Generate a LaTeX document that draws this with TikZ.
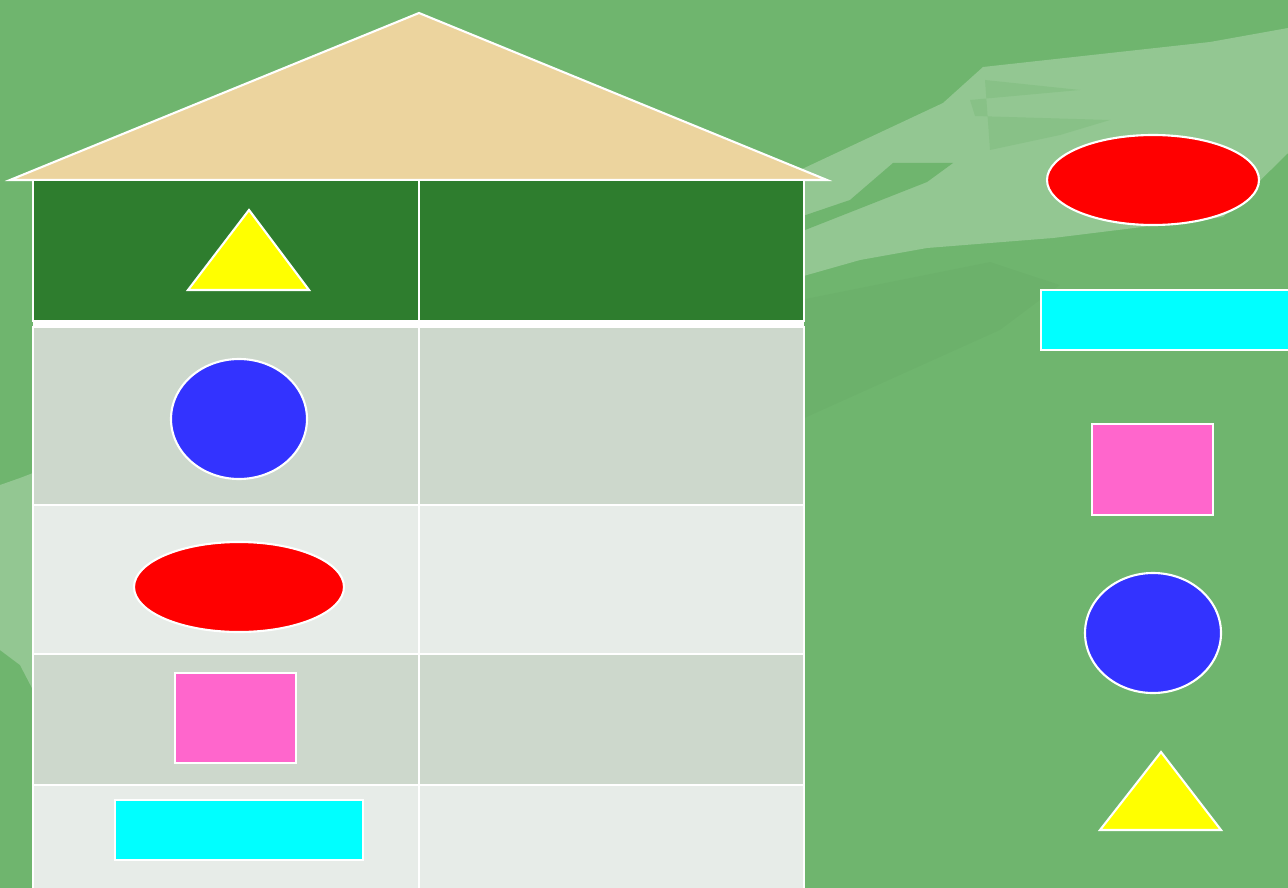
\documentclass[tikz,border=0pt]{standalone}
\definecolor{meadow}{RGB}{111,181,110}
\definecolor{roofwood}{RGB}{236,212,158}
\definecolor{headgreen}{RGB}{46,125,46}
\definecolor{rowdark}{RGB}{205,216,204}
\definecolor{rowlight}{RGB}{231,236,232}
\definecolor{shapeblue}{RGB}{51,51,255}
\definecolor{shapepink}{RGB}{255,102,204}
\definecolor{shapecyan}{RGB}{0,255,255}
\definecolor{shapeyellow}{RGB}{255,255,0}
\definecolor{shapered}{RGB}{255,0,0}
\begin{document}
\begin{tikzpicture}[x=0.01cm, y=-0.01cm, line width=0.6pt]
  \useasboundingbox (0,0) rectangle (1288,888);
  % background and mist
  \fill[meadow] (0,0) rectangle (1288,888);
  \fill[white, opacity=0.25] (800,170) -- (943,103) -- (983,67) -- (1210,42) -- (1288,28)
    -- (1288,153) -- (1223,217) -- (1053,238) -- (927,248) -- (860,260) -- (800,277) -- cycle;
  \fill[meadow] (800,217) -- (850,200) -- (893,163) -- (953,163) -- (927,182) -- (800,232) -- cycle;
  \fill[meadow, opacity=0.3] (985,80) -- (1080,90) -- (970,100) -- (975,116) -- (1110,120) -- (1060,135) -- (990,150) -- cycle;
  \fill[black, opacity=0.02] (800,300) -- (990,262) -- (1060,285) -- (1000,330) -- (800,420) -- cycle;
  \fill[white, opacity=0.25] (0,485) -- (20,478) -- (33,473) -- (33,690) -- (20,665) -- (0,650) -- cycle;
  % roof
  \draw[white, fill=roofwood] (10,180) -- (419,13) -- (827,180) -- cycle;
  % table
  \draw[white, fill=headgreen] (33,180) rectangle (804,321);
  \fill[white] (33,321) rectangle (804,327);
  \draw[white, fill=rowdark] (33,327) rectangle (804,505);
  \draw[white, fill=rowlight] (33,505) rectangle (804,654);
  \draw[white, fill=rowdark] (33,654) rectangle (804,785);
  \draw[white, fill=rowlight] (33,785) rectangle (804,890);
  \draw[white] (419,180) -- (419,321);
  \draw[white] (419,327) -- (419,890);
  % shapes in the table
  \draw[white, fill=shapeyellow] (249,210) -- (309,290) -- (188,290) -- cycle;
  \draw[white, fill=shapeblue] (239,419) ellipse [x radius=68, y radius=60];
  \draw[white, fill=shapered] (239,587) ellipse [x radius=105, y radius=45];
  \draw[white, fill=shapepink] (175,673) rectangle (296,763);
  \draw[white, fill=shapecyan] (115,800) rectangle (363,860);
  % shapes on the right
  \draw[white, fill=shapered] (1153,180) ellipse [x radius=106, y radius=45];
  \draw[white, fill=shapecyan] (1041,290) rectangle (1292,350);
  \draw[white, fill=shapepink] (1092,424) rectangle (1213,515);
  \draw[white, fill=shapeblue] (1153,633) ellipse [x radius=68, y radius=60];
  \draw[white, fill=shapeyellow] (1161,752) -- (1221,830) -- (1100,830) -- cycle;
\end{tikzpicture}
\end{document}
